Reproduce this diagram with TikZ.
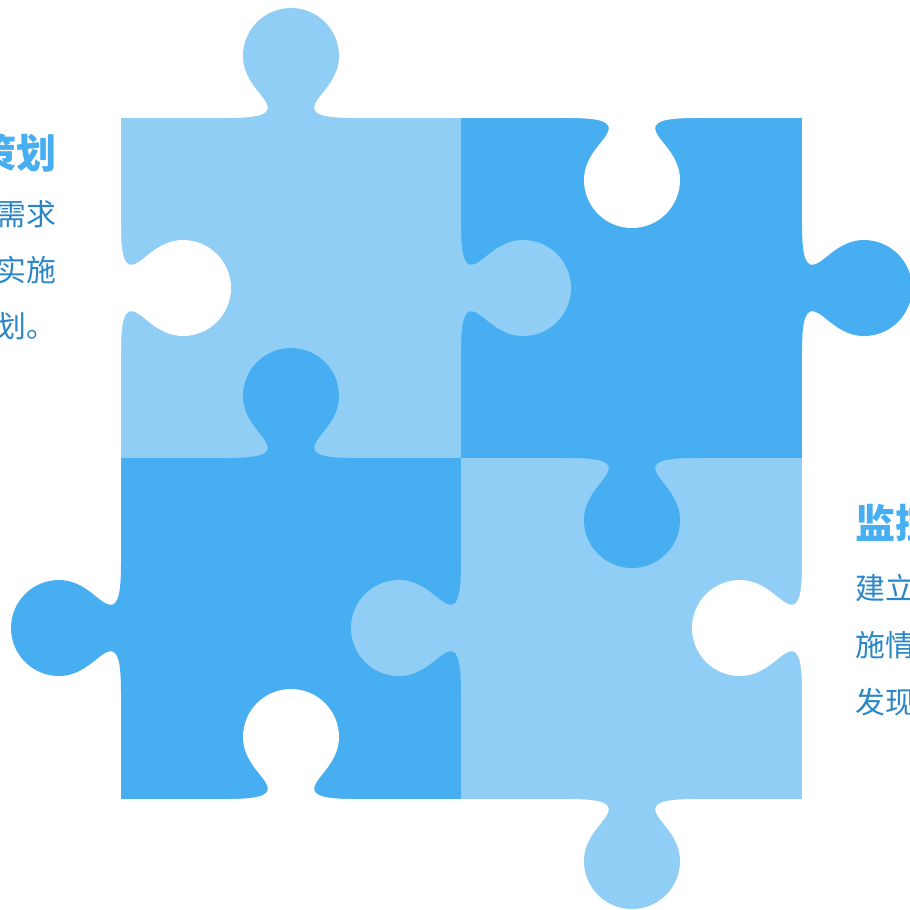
\documentclass[tikz,border=0pt]{standalone}
\usepackage{fontspec}
\newfontfamily\cjk{Noto Sans CJK SC}
\definecolor{pieceLight}{HTML}{90CEF6}
\definecolor{pieceDark}{HTML}{46AEF1}
\definecolor{headBlue}{HTML}{46AEF1}
\definecolor{bodyBlue}{HTML}{2B86C7}
\tikzset{
  head/.style={inner sep=0pt, text=headBlue, font=\cjk\bfseries\fontsize{11.4}{13}\selectfont},
  body/.style={inner sep=0pt, text=bodyBlue, font=\cjk\fontsize{8.5}{10}\selectfont}
}
\begin{document}
\begin{tikzpicture}[x=0.1mm, y=-0.1mm]
    \useasboundingbox (0,0) rectangle (910,910);
    \clip (0,0) rectangle (910,910);
    % the four squares
    \fill[pieceLight] (121,118) rectangle (461,458);
    \fill[pieceDark]  (461,118) rectangle (802,458);
    \fill[pieceDark]  (121,458) rectangle (461,799);
    \fill[pieceLight] (461,458) rectangle (802,799);
    % tabs and holes: x/y/rotation/colour
    \foreach \x/\y/\r/\c in {291/118/180/pieceLight, 802/288/90/pieceDark, 121/628/-90/pieceDark, 632/799/0/pieceLight,
                             461/288/90/pieceLight, 632/458/0/pieceDark, 291/458/180/pieceDark, 461/628/-90/pieceLight,
                             121/288/90/white, 632/118/0/white, 291/799/180/white, 802/628/-90/white}
      \fill[\c, shift={(\x,\y)}, rotate=\r] (-64,-3) -- (-64,0) .. controls (-30,0) and (-20,4) .. (-24,14)
        .. controls (-28,24) and (-48,38) .. (-48,62) .. controls (-48,88.5) and (-26.5,110) .. (0,110)
        .. controls (26.5,110) and (48,88.5) .. (48,62) .. controls (48,38) and (28,24) .. (24,14)
        .. controls (20,4) and (30,0) .. (64,0) -- (64,-3) -- cycle;
    % texts
    \node[head, anchor=east] (planhead) at (57,153) {策划};
    \node[body, anchor=east] (plan1) at (57,214) {需求};
    \node[body, anchor=east] (plan2) at (57,270) {实施};
    \node[body, anchor=east] (plan3) at (57,326) {划。};
    \node[head, anchor=west] (watchhead) at (855,523) {监控};
    \node[body, anchor=west] (watch1) at (855,588) {建立};
    \node[body, anchor=west] (watch2) at (855,645) {施情};
    \node[body, anchor=west] (watch3) at (855,702) {发现};
\end{tikzpicture}
\end{document}
